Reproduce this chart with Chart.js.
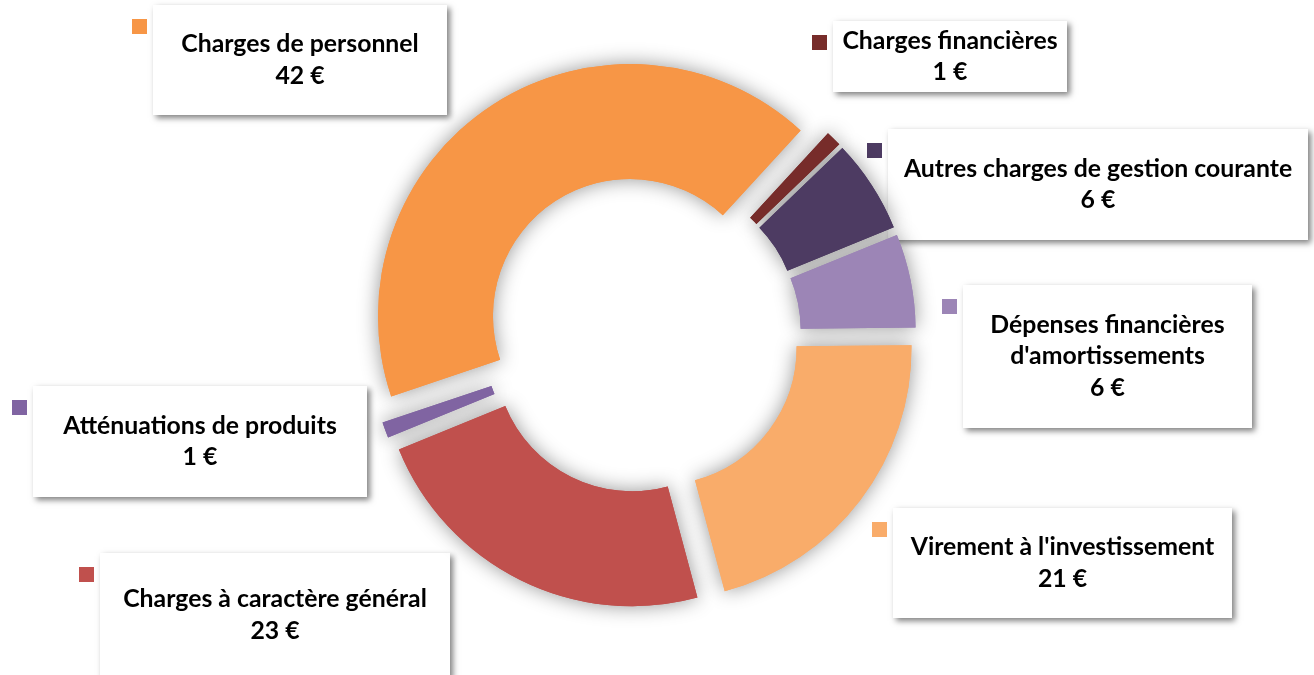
<!DOCTYPE html>
<html lang="fr">
<head>
<meta charset="utf-8">
<title>Répartition des dépenses de fonctionnement</title>
<script src="https://cdn.jsdelivr.net/npm/chart.js@4.4.1/dist/chart.umd.min.js"></script>
<style>
    html, body { margin: 0; padding: 0; background: #fff; }
    .chart-wrap { position: relative; width: 1314px; height: 675px; }
</style>
</head>
<body>
<div class="chart-wrap"><canvas id="chart"></canvas></div>
<script>
// data, in ring order (clockwise from the lower right)
const categories = [
    'Charges à caractère général',
    'Atténuations de produits',
    'Charges de personnel',
    'Charges financières',
    'Autres charges de gestion courante',
    ['Dépenses financières', "d'amortissements"],
    "Virement à l'investissement"
];
const values = [23, 1, 42, 1, 6, 6, 21];
const colors = ['#C0504D', '#8064A2', '#F79646', '#772C2A', '#4D3B62', '#9C85B6', '#F9AC6A'];

// where the label callouts sit (layout only)
const labelBoxes = [
    { x: 100, y: 553, w: 350, h: 124 },
    { x: 33,  y: 386, w: 334, h: 111 },
    { x: 153, y: 5,   w: 294, h: 110 },
    { x: 833, y: 21,  w: 234, h: 71 },
    { x: 888, y: 129, w: 420, h: 111 },
    { x: 963, y: 285, w: 289, h: 143 },
    { x: 893, y: 508, w: 339, h: 110 }
];

const FONT = 'bold 24.8px Lato, "Open Sans", sans-serif';
const LINE_H = 31.5;

// boxes + keys are drawn under the ring, like in the original
const calloutPlugin = {
    id: 'callouts',
    beforeDatasetsDraw(chart) {
        const ctx = chart.ctx;
        const labels = chart.data.labels;
        const ds = chart.data.datasets[0];
        labels.forEach((label, i) => {
            const b = labelBoxes[i];
            ctx.save();
            ctx.shadowColor = 'rgba(0, 0, 0, 0.5)';
            ctx.shadowBlur = 6;
            ctx.shadowOffsetX = 3;
            ctx.shadowOffsetY = 3;
            ctx.fillStyle = '#fff';
            ctx.fillRect(b.x, b.y, b.w, b.h);
            ctx.restore();

            ctx.fillStyle = ds.backgroundColor[i];
            ctx.fillRect(b.x - 21, b.y + 14, 15, 15);

            const lines = [].concat(label, ds.data[i] + ' €');
            ctx.save();
            ctx.font = FONT;
            ctx.fillStyle = '#000';
            ctx.textAlign = 'center';
            ctx.textBaseline = 'middle';
            const top = b.y + b.h / 2 - (lines.length - 1) * LINE_H / 2;
            lines.forEach((t, k) => ctx.fillText(t, b.x + b.w / 2, top + k * LINE_H));
            ctx.restore();
        });
    }
};

// pulls every slice out along its middle angle, shadow pass first
const explodePlugin = {
    id: 'explode',
    beforeDatasetDraw(chart, args, opts) {
        const ctx = chart.ctx;
        const arcs = args.meta.data;
        const dist = opts.distance || 0;
        [true, false].forEach(withShadow => {
            arcs.forEach(arc => {
                const mid = (arc.startAngle + arc.endAngle) / 2;
                ctx.save();
                ctx.translate(Math.cos(mid) * dist, Math.sin(mid) * dist);
                if (withShadow) {
                    ctx.shadowColor = 'rgba(0, 0, 0, 0.42)';
                    ctx.shadowBlur = 20;
                }
                arc.draw(ctx);
                ctx.restore();
            });
        });
        return false;
    }
};

new Chart(document.getElementById('chart'), {
    type: 'doughnut',
    data: {
        labels: categories,
        datasets: [{
            data: values,
            backgroundColor: colors,
            borderWidth: 0,
            offset: 0,
            radius: 252,
            cutout: '54.4%',
            rotation: 165
        }]
    },
    options: {
        responsive: true,
        maintainAspectRatio: false,
        animation: false,
        layout: { padding: { left: 0, right: 30, top: 0, bottom: 6 } },
        plugins: {
            legend: { display: false },
            tooltip: { enabled: false },
            explode: { distance: 22 }
        }
    },
    plugins: [calloutPlugin, explodePlugin]
});
</script>
</body>
</html>
